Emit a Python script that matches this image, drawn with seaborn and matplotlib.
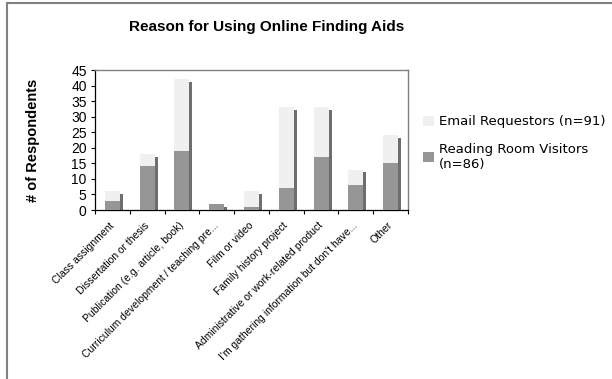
import numpy as np
import pandas as pd
import matplotlib
matplotlib.use("Agg")
import matplotlib.pyplot as plt
from matplotlib.patches import Patch
from matplotlib.lines import Line2D
from matplotlib.transforms import ScaledTranslation
import seaborn as sns

categories = [
    "Class assignment",
    "Dissertation or thesis",
    "Publication (e.g. article, book)",
    "Curriculum development / teaching pre...",
    "Film or video",
    "Family history project",
    "Administrative or work-related product",
    "I'm gathering information but don't have...",
    "Other",
]
reading_room = [3, 14, 19, 2, 1, 7, 17, 8, 15]
email = [3, 4, 23, 0, 5, 26, 16, 5, 9]
series_labels = ["Email Requestors (n=91)", "Reading Room Visitors\n(n=86)"]
yticks = [0, 5, 10, 15, 20, 25, 30, 35, 40, 45]

light = "#f0f0f0"
dark = "#969696"
shade = "#6e6e6e"

df = pd.DataFrame({"reason": categories, "reading": reading_room, "email": email})
df["total"] = df["reading"] + df["email"]

sns.set_style("white")
plt.rcParams["font.family"] = ["Liberation Sans", "DejaVu Sans"]
plt.rcParams["text.color"] = "black"
plt.rcParams["axes.labelcolor"] = "black"
plt.rcParams["xtick.color"] = "black"
plt.rcParams["ytick.color"] = "black"

fig = plt.figure(figsize=(6.12, 3.79), dpi=100)
ax = fig.add_axes([95 / 612, 1 - 210 / 379, 313 / 612, 140 / 379])

bw = 0.43
sw = 0.086
pos = np.arange(len(categories))
# 3D side face of each stacked column
ax.bar(pos + bw / 2, df["total"] - 0.9, width=sw, align="edge", color=shade, linewidth=0, zorder=1)
sns.barplot(data=df, x="reason", y="total", color=light, width=bw, saturation=1, ax=ax,
            linewidth=0, edgecolor="none", zorder=2)
sns.barplot(data=df, x="reason", y="reading", color=dark, width=bw, saturation=1, ax=ax,
            linewidth=0, edgecolor="none", zorder=3)

ax.set_xlim(-0.5, len(categories) - 0.5)
ax.set_ylim(0, 45)
ax.set_yticks(yticks)
ax.set_yticklabels([str(v) for v in yticks], fontsize=10)
ax.set_xticks(pos)
ax.set_xticklabels(categories, rotation=45, ha="right", va="center", rotation_mode="anchor", fontsize=7.5)
shift = ScaledTranslation(-4 / 100, 0, fig.dpi_scale_trans)
for lab in ax.get_xticklabels():
    lab.set_transform(lab.get_transform() + shift)
ax.set_xticks(np.arange(len(categories) + 1) - 0.5, minor=True)
ax.tick_params(axis="x", which="major", length=0, pad=10)
ax.tick_params(axis="x", which="minor", length=3, width=0.8, color="black", direction="out", bottom=True)
ax.tick_params(axis="y", length=3, width=0.8, color="black", direction="out", left=True, pad=3)
ax.set_xlabel("")
ax.set_ylabel("# of Respondents", fontsize=10.5, fontweight="bold", labelpad=22)

for s in ["top", "right"]:
    ax.spines[s].set_color("#808080")
    ax.spines[s].set_linewidth(1)
for s in ["left", "bottom"]:
    ax.spines[s].set_color("black")
    ax.spines[s].set_linewidth(0.9)
ax.grid(False)

fig.text(267 / 612, 1 - 27 / 379, "Reason for Using Online Finding Aids", ha="center", va="center",
         fontsize=11, fontweight="bold")

handles = [Patch(facecolor=light, edgecolor="none"), Patch(facecolor=dark, edgecolor="none")]
fig.legend(handles, series_labels, loc="upper left", bbox_to_anchor=(418 / 612, 1 - 110 / 379),
           frameon=False, prop={"family": "DejaVu Sans", "size": 9.5}, handlelength=0.8,
           handleheight=0.8, handletextpad=0.4, labelspacing=1.1, borderaxespad=0)

fig.add_artist(Line2D([7 / 612, 1], [1 - 3 / 379, 1 - 3 / 379], transform=fig.transFigure,
                      color="#808080", linewidth=1.5))
fig.add_artist(Line2D([7 / 612, 7 / 612], [0, 1 - 3 / 379], transform=fig.transFigure,
                      color="#808080", linewidth=1.5))

fig.savefig("out.png", dpi=100, facecolor="white")
